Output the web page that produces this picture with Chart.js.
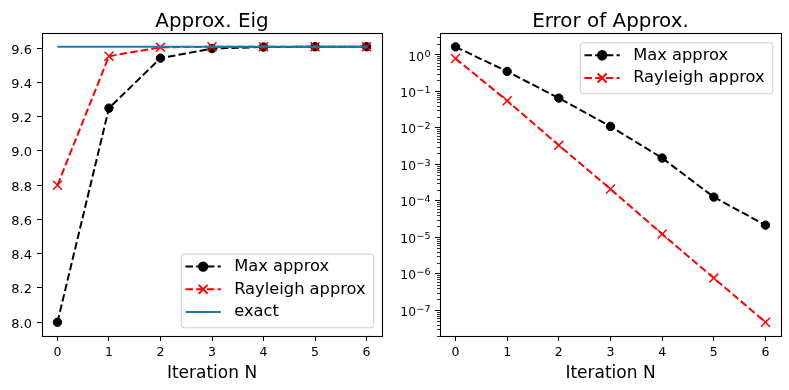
<!DOCTYPE html>
<html>
<head>
<meta charset="utf-8">
<script src="https://cdn.jsdelivr.net/npm/chart.js@4.4.0/dist/chart.umd.min.js"></script>
<style>
    body { margin: 0; background: #fff; }
    canvas { position: absolute; top: 0; }
    #eigchart { left: 0; }
    #errchart { left: 394px; }
</style>
</head>
<body>
<canvas id="eigchart" width="394" height="390"></canvas>
<canvas id="errchart" width="395" height="390"></canvas>
<script>
// values
var iterations = [0, 1, 2, 3, 4, 5, 6];
var maxApprox = [8.0, 9.25, 9.542, 9.5976, 9.607, 9.6084, 9.60848];
var rayleighApprox = [8.80, 9.5535, 9.6052, 9.6083, 9.60849, 9.6085, 9.6085];
var exactValue = [9.6085, 9.6085, 9.6085, 9.6085, 9.6085, 9.6085, 9.6085];
var maxError = [1.65, 0.35, 0.065, 0.0109, 0.00148, 0.000126, 0.0000215];
var rayleighError = [0.79, 0.055, 0.0033, 0.00021, 0.0000122, 0.00000076, 0.000000047];

var xTicks = [0, 1, 2, 3, 4, 5, 6];
var eigTicks = [8.0, 8.2, 8.4, 8.6, 8.8, 9.0, 9.2, 9.4, 9.6];
var errTicks = [1e-7, 1e-6, 1e-5, 1e-4, 1e-3, 1e-2, 1e-1, 1e0];

var FONT = "'DejaVu Sans', sans-serif";

Chart.defaults.font.family = FONT;
Chart.defaults.color = '#000';

function points(ys) {
    return iterations.map(function (x, i) { return { x: x, y: ys[i] }; });
}

function fixedTicks(list) {
    return function (scale) {
        scale.ticks = list.map(function (v) { return { value: v }; });
    };
}

function maxDataset(ys) {
    return {
        label: 'Max approx',
        data: points(ys),
        borderColor: '#000',
        backgroundColor: '#000',
        borderWidth: 2,
        borderDash: [7.5, 3.2],
        pointStyle: 'circle',
        pointRadius: 4.2,
        pointBorderWidth: 1,
        pointBackgroundColor: '#000',
        order: 3
    };
}

function rayleighDataset(ys) {
    return {
        label: 'Rayleigh approx',
        data: points(ys),
        borderColor: '#ff0000',
        backgroundColor: '#ff0000',
        borderWidth: 2,
        borderDash: [7.5, 3.2],
        pointStyle: 'crossRot',
        pointRadius: 6.3,
        pointBorderWidth: 1.5,
        order: 2
    };
}

// matplotlib style box round the axes
var frame = {
    id: 'frame',
    afterDatasetsDraw: function (chart) {
        var a = chart.chartArea, ctx = chart.ctx;
        ctx.save();
        ctx.strokeStyle = '#000';
        ctx.lineWidth = 1.1;
        ctx.strokeRect(Math.round(a.left) + 0.5, Math.round(a.top) + 0.5,
            Math.round(a.right - a.left), Math.round(a.bottom - a.top));
        ctx.restore();
    }
};

// minor ticks and 10^n labels on the log axis
var logAxis = {
    id: 'logAxis',
    afterDraw: function (chart) {
        var y = chart.scales.y;
        if (y.type !== 'logarithmic') return;
        var ctx = chart.ctx, left = Math.round(chart.chartArea.left);
        ctx.save();
        ctx.strokeStyle = '#000';
        ctx.lineWidth = 0.8;
        for (var n = -9; n <= 1; n++) {
            for (var k = 2; k <= 9; k++) {
                var v = k * Math.pow(10, n);
                if (v < y.min || v > y.max) continue;
                var py = Math.round(y.getPixelForValue(v)) + 0.5;
                ctx.beginPath();
                ctx.moveTo(left - 3, py);
                ctx.lineTo(left, py);
                ctx.stroke();
            }
        }
        ctx.fillStyle = '#000';
        ctx.textBaseline = 'alphabetic';
        ctx.textAlign = 'left';
        y.ticks.forEach(function (t) {
            var ty = y.getPixelForValue(t.value);
            var e = Math.round(Math.log10(t.value));
            var exp = e < 0 ? '\u2212' + (-e) : String(e);
            ctx.font = '12.3px ' + FONT;
            var wBase = ctx.measureText('10').width;
            ctx.font = '9.5px ' + FONT;
            var wExp = ctx.measureText(exp).width;
            var x = left - 10 - wBase - wExp;
            ctx.font = '12.3px ' + FONT;
            ctx.fillText('10', x, ty + 5.7);
            ctx.font = '9.5px ' + FONT;
            ctx.fillText(exp, x + wBase + 0.5, ty + 1.7);
        });
        ctx.restore();
    }
};

// legend drawn inside the axes, like plt.legend()
var boxLegend = {
    id: 'boxLegend',
    afterDraw: function (chart, args, opts) {
        var ctx = chart.ctx, a = chart.chartArea;
        var sets = chart.data.datasets;
        ctx.save();
        ctx.font = '16.3px ' + FONT;
        var w = 0;
        sets.forEach(function (d) { w = Math.max(w, ctx.measureText(d.label).width); });
        var bw = 53.4 + w + 7.6;
        var bh = 13 + (sets.length - 1) * 22.7 + 15.3;
        var x0 = a.right - 8.7 - bw;
        var y0 = opts.loc === 'lower right' ? a.bottom - 8.7 - bh : a.top + 9.3;

        ctx.beginPath();
        ctx.roundRect(x0 + 0.5, y0 + 0.5, bw, bh, 3);
        ctx.fillStyle = 'rgba(255,255,255,0.8)';
        ctx.fill();
        ctx.strokeStyle = '#cccccc';
        ctx.lineWidth = 1;
        ctx.stroke();

        sets.forEach(function (d, i) {
            var ry = y0 + 13 + i * 22.7;
            ctx.save();
            ctx.strokeStyle = d.borderColor;
            ctx.lineWidth = d.borderWidth;
            ctx.setLineDash(d.borderDash || []);
            ctx.beginPath();
            ctx.moveTo(x0 + 4.7, ry);
            ctx.lineTo(x0 + 40, ry);
            ctx.stroke();
            ctx.setLineDash([]);
            if (d.pointRadius > 0) {
                ctx.fillStyle = d.pointBackgroundColor || d.borderColor;
                Chart.helpers.drawPoint(ctx, {
                    pointStyle: d.pointStyle,
                    radius: d.pointRadius,
                    borderWidth: d.pointBorderWidth,
                    rotation: 0
                }, x0 + 22.4, ry);
            }
            ctx.restore();
            ctx.fillStyle = '#000';
            ctx.textBaseline = 'middle';
            ctx.textAlign = 'left';
            ctx.fillText(d.label, x0 + 53.4, ry);
        });
        ctx.restore();
    }
};

function xScale() {
    return {
        type: 'linear',
        min: -0.3,
        max: 6.3,
        afterBuildTicks: fixedTicks(xTicks),
        afterFit: function (s) { s.height = 54; },
        ticks: { font: { size: 12.5 }, padding: 4.7, maxRotation: 0, callback: function (v) { return String(v); } },
        grid: { drawOnChartArea: false, drawTicks: true, tickLength: 5, tickColor: '#000', tickWidth: 1 },
        border: { display: false },
        title: { display: true, text: 'Iteration N', font: { size: 17 }, padding: { top: 2, bottom: 6.2 } }
    };
}

function titleOpts(text) {
    return {
        display: true,
        text: text,
        fullSize: false,
        font: { size: 19.9, weight: 'normal', lineHeight: 1.1 },
        padding: { top: 10.55, bottom: 0.55 }
    };
}

function initCharts() {
    new Chart(document.getElementById('eigchart').getContext('2d'), {
        type: 'line',
        data: {
            datasets: [
                maxDataset(maxApprox),
                rayleighDataset(rayleighApprox),
                {
                    label: 'exact',
                    data: points(exactValue),
                    borderColor: '#1f77b4',
                    backgroundColor: '#1f77b4',
                    borderWidth: 2,
                    pointRadius: 0,
                    order: 1
                }
            ]
        },
        options: {
            responsive: false,
            animation: false,
            events: [],
            layout: { padding: { left: 0, right: 12, top: 0, bottom: 0 } },
            scales: {
                x: xScale(),
                y: {
                    type: 'linear',
                    min: 7.9196,
                    max: 9.6889,
                    afterBuildTicks: fixedTicks(eigTicks),
                    afterFit: function (s) { s.width = 42; },
                    ticks: { font: { size: 13 }, padding: 5, labelOffset: 2, callback: function (v) { return v.toFixed(1); } },
                    grid: { drawOnChartArea: false, drawTicks: true, tickLength: 5, tickColor: '#000', tickWidth: 1 },
                    border: { display: false }
                }
            },
            plugins: {
                legend: { display: false },
                tooltip: { enabled: false },
                title: titleOpts('Approx. Eig'),
                boxLegend: { loc: 'lower right' }
            }
        },
        plugins: [frame, logAxis, boxLegend]
    });

    new Chart(document.getElementById('errchart').getContext('2d'), {
        type: 'line',
        data: {
            datasets: [maxDataset(maxError), rayleighDataset(rayleighError)]
        },
        options: {
            responsive: false,
            animation: false,
            events: [],
            layout: { padding: { left: 0, right: 8, top: 0, bottom: 0 } },
            scales: {
                x: xScale(),
                y: {
                    type: 'logarithmic',
                    min: 1.97e-8,
                    max: 3.96,
                    afterBuildTicks: fixedTicks(errTicks),
                    afterFit: function (s) { s.width = 46; },
                    ticks: { display: false },
                    grid: { drawOnChartArea: false, drawTicks: true, tickLength: 5, tickColor: '#000', tickWidth: 1 },
                    border: { display: false }
                }
            },
            plugins: {
                legend: { display: false },
                tooltip: { enabled: false },
                title: titleOpts('Error of Approx.'),
                boxLegend: { loc: 'upper right' }
            }
        },
        plugins: [frame, logAxis, boxLegend]
    });
}

document.addEventListener('DOMContentLoaded', initCharts);
</script>
</body>
</html>
